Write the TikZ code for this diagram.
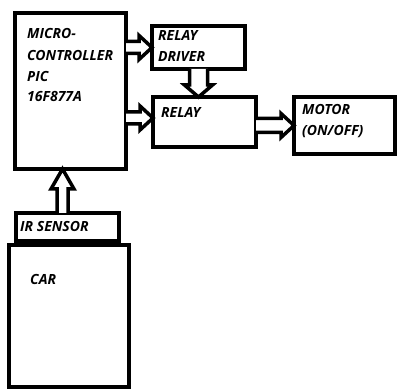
\documentclass[tikz,border=0pt]{standalone}
\usepackage{fontspec}
\setmainfont{Open Sans}
\usetikzlibrary{calc}
\tikzset{
  box/.style={draw=black, line width=4pt, fill=none, inner sep=0pt, outer sep=0pt},
  lbl/.style={anchor=base west, inner sep=0pt, font=\fontsize{14}{16}\selectfont\bfseries\itshape},
  blk/.style={draw=black, line width=3.5pt, line join=miter, fill=white}
}
% right-pointing block arrow: start, tip, shaft half-width, head half-width, head length
\newcommand\blkR[5]{\draw[blk] let \p1=(#1), \p2=(#2) in
  (\x1,\y2+#3) -- (\x2-#5,\y2+#3) -- (\x2-#5,\y2+#4) -- (\x2,\y2) -- (\x2-#5,\y2-#4) -- (\x2-#5,\y2-#3) -- (\x1,\y2-#3);}
\newcommand\blkU[5]{\draw[blk] let \p1=(#1), \p2=(#2) in
  (\x2+#3,\y1) -- (\x2+#3,\y2-#5) -- (\x2+#4,\y2-#5) -- (\x2,\y2) -- (\x2-#4,\y2-#5) -- (\x2-#3,\y2-#5) -- (\x2-#3,\y1);}
\newcommand\blkD[5]{\draw[blk] let \p1=(#1), \p2=(#2) in
  (\x2+#3,\y1) -- (\x2+#3,\y2+#5) -- (\x2+#4,\y2+#5) -- (\x2,\y2) -- (\x2-#4,\y2+#5) -- (\x2-#3,\y2+#5) -- (\x2-#3,\y1);}
\begin{document}
\begin{tikzpicture}[x=1pt,y=-1pt]
\useasboundingbox[fill=white] (0,0) rectangle (399,390);
% boxes
\node[box, minimum width=111pt, minimum height=156pt] (micro) at (70.5,91) {};
\node[box, minimum width=93pt, minimum height=43pt] (driver) at (198.5,47.5) {};
\node[box, minimum width=103pt, minimum height=50pt] (relay) at (204.5,122) {};
\node[box, minimum width=101pt, minimum height=57pt] (motor) at (344.5,125.5) {};
\node[box, minimum width=103pt, minimum height=28pt] (ir) at (67.5,227) {};
\node[box, minimum width=120pt, minimum height=142pt] (car) at (69,316) {};
% labels
\node[lbl] (t1) at (27,39) {MICRO-};
\node[lbl] (t2) at (27,61) {CONTROLLER};
\node[lbl] (t3) at (27,82) {PIC};
\node[lbl] (t4) at (27,102) {16F877A};
\node[lbl] (t5) at (158,41) {RELAY};
\node[lbl] (t6) at (158,62) {DRIVER};
\node[lbl] (t7) at (161,118) {RELAY};
\node[lbl] (t8) at (302,115) {MOTOR};
\node[lbl] (t9) at (302,136) {(ON/OFF)};
\node[lbl] (t10) at (20,232) {IR SENSOR};
\node[lbl] (t11) at (30,284) {CAR};
% connectors
\coordinate (a1s) at (micro.east |- driver.west);
\blkR{a1s}{driver.west}{6pt}{12pt}{13pt}
\coordinate (a2e) at ([yshift=4pt]relay.west);
\coordinate (a2s) at (micro.east |- a2e);
\blkR{a2s}{a2e}{6pt}{12pt}{13pt}
\coordinate (a3e) at (driver.south |- relay.north);
\blkD{driver.south}{a3e}{9pt}{14pt}{12pt}
\coordinate (a4s) at (relay.east |- motor.west);
\blkR{a4s}{motor.west}{7pt}{12pt}{13pt}
\coordinate (a5s) at ([xshift=-5pt]ir.north);
\coordinate (a5e) at (a5s |- micro.south);
\blkU{a5s}{a5e}{5.5pt}{11.5pt}{20pt}
\end{tikzpicture}
\end{document}
